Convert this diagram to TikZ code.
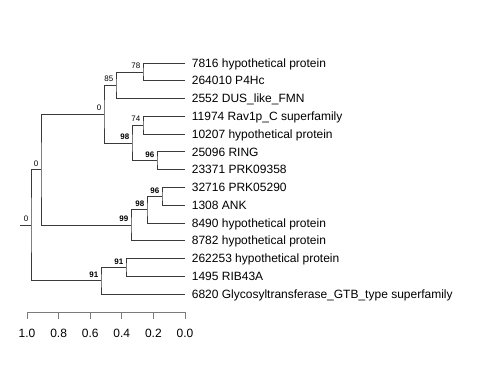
\documentclass[tikz,border=0pt]{standalone}
\usepackage{fontspec}
\setmainfont{Liberation Sans}
\usetikzlibrary{positioning}
\definecolor{branch}{HTML}{3A3A3A}
\definecolor{axisgray}{HTML}{7A7A7A}

\begin{document}
\begin{tikzpicture}[
x=0.03cm,y=-0.03cm,
leaf/.style={
anchor=west,
inner xsep=0.2cm,
inner ysep=0pt,
text height=0.716em,
text depth=0pt,
font=\fontsize{10.24}{12}\selectfont
},
support/.style={
inner sep=0pt,
text height=0.716em,
text depth=0pt,
font=\fontsize{6.8}{8}\selectfont
},
strong/.style={support,font=\fontsize{6.8}{8}\selectfont\bfseries},
edge/.style={draw=branch,line width=0.65pt},
scale line/.style={draw=axisgray,line width=0.7pt}
]
\useasboundingbox (0,0) rectangle (480,384);

\node[leaf] (l1) at (185,63.0) {7816 hypothetical protein};
\node[leaf] (l2) at (185,80.8) {264010 P4Hc};
\node[leaf] (l3) at (185,98.5) {2552 DUS\_like\_FMN};
\node[leaf] (l4) at (185,116.3) {11974 Rav1p\_C superfamily};
\node[leaf] (l5) at (185,134.1) {10207 hypothetical protein};
\node[leaf] (l6) at (185,151.8) {25096 RING};
\node[leaf] (l7) at (185,169.6) {23371 PRK09358};
\node[leaf] (l8) at (185,187.4) {32716 PRK05290};
\node[leaf] (l9) at (185,205.2) {1308 ANK};
\node[leaf] (l10) at (185,222.9) {8490 hypothetical protein};
\node[leaf] (l11) at (185,240.7) {8782 hypothetical protein};
\node[leaf] (l12) at (185,258.5) {262253 hypothetical protein};
\node[leaf] (l13) at (185,276.2) {1495 RIB43A};
\node[leaf] (l14) at (185,294.0) {6820 Glycosyltransferase\_GTB\_type superfamily};

\coordinate (n78) at (143,71.9);
\coordinate (n85) at (116,85.2);
\coordinate (n74) at (143,125.2);
\coordinate (n96a) at (157,160.7);
\coordinate (n98a) at (132,143.0);
\coordinate (n0a) at (104,114.1);
\coordinate (n96b) at (162,196.3);
\coordinate (n98b) at (147,209.6);
\coordinate (n99) at (131,225.2);
\coordinate (n0b) at (41,169.6);
\coordinate (n91a) at (126,267.4);
\coordinate (n91b) at (101,280.7);
\coordinate (root) at (31,225.2);
\coordinate (stem) at (20,225.2);

\draw[edge] (l1) -| (n78) |- (l2);
\draw[edge] (n78) -| (n85) |- (l3);
\draw[edge] (l4) -| (n74) |- (l5);
\draw[edge] (l6) -| (n96a) |- (l7);
\draw[edge] (n74) -| (n98a) |- (n96a);
\draw[edge] (n85) -| (n0a) |- (n98a);
\draw[edge] (l8) -| (n96b) |- (l9);
\draw[edge] (n96b) -| (n98b) |- (l10);
\draw[edge] (n98b) -| (n99) |- (l11);
\draw[edge] (n0a) -| (n0b) |- (n99);
\draw[edge] (l12) -| (n91a) |- (l13);
\draw[edge] (n91a) -| (n91b) |- (l14);
\draw[edge] (n0b) -| (root) |- (n91b);
\draw[edge] (stem) -- (root);

\node[support, above left=0.09cm and 0.075cm of n78] (s78) {78};
\node[support, above left=0.09cm and 0.075cm of n85] (s85) {85};
\node[support, above left=0.09cm and 0.075cm of n0a] (s0a) {0};
\node[support, above left=0.09cm and 0.075cm of n74] (s74) {74};
\node[strong, above left=0.09cm and 0.075cm of n98a] (s98a) {98};
\node[strong, above left=0.09cm and 0.075cm of n96a] (s96a) {96};
\node[support, above left=0.09cm and 0.075cm of n0b] (s0b) {0};
\node[support, above left=0.09cm and 0.075cm of root] (sroot) {0};
\node[strong, above left=0.09cm and 0.075cm of n96b] (s96b) {96};
\node[strong, above left=0.09cm and 0.075cm of n98b] (s98b) {98};
\node[strong, above left=0.09cm and 0.075cm of n99] (s99) {99};
\node[strong, above left=0.09cm and 0.075cm of n91a] (s91a) {91};
\node[strong, above left=0.09cm and 0.075cm of n91b] (s91b) {91};

\draw[scale line] (27,312) -- (185,312);
\foreach \v in {1.0,0.8,0.6,0.4,0.2,0.0}
\draw[scale line] ({185-158*\v},312) -- ({185-158*\v},319)
node[below=0.29cm,anchor=north,inner sep=0pt,text height=0.716em,text depth=0pt,
text=black,font=\fontsize{10.24}{12}\selectfont] {\v};

\end{tikzpicture}
\end{document}
